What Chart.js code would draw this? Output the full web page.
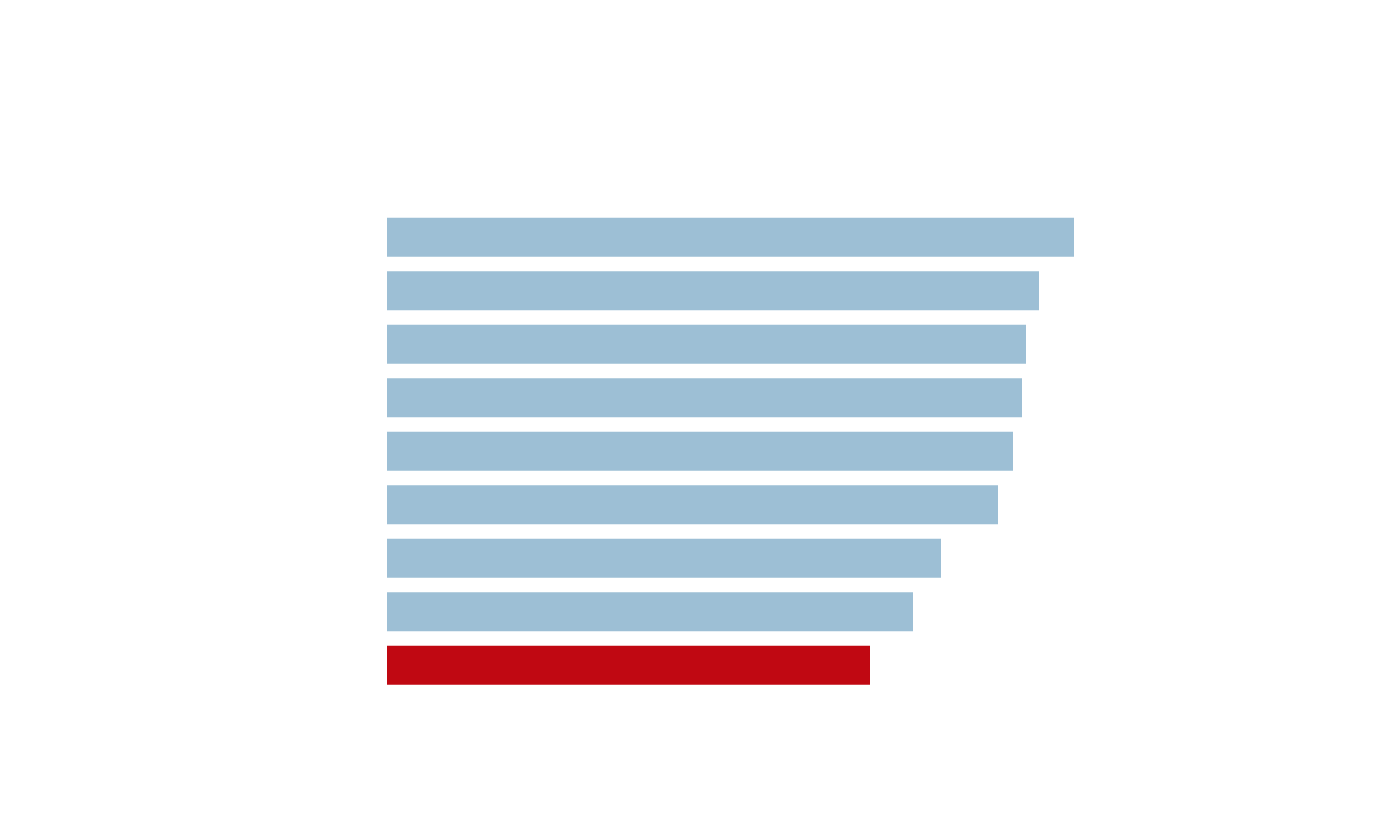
<!DOCTYPE html>
<html>
<head>
<meta charset="utf-8">
<script src="https://cdn.jsdelivr.net/npm/chart.js@4"></script>
<style>
    html, body { margin: 0; padding: 0; background: #fff; }
    #wrap { width: 1400px; height: 840px; }
</style>
</head>
<body>
<div id="wrap"><canvas id="bar-chart" width="1400" height="840"></canvas></div>
<script>
// no labels are shown in the picture, so categories are just placeholders
const categories = ['1', '2', '3', '4', '5', '6', '7', '8', '9'];
const values = [687, 652, 639, 635, 626, 611, 554, 526, 483];
const highlightIndex = 8;

const blue = '#9dbfd5';
const red = '#c00812';

document.addEventListener('DOMContentLoaded', () => {
    const ctx = document.getElementById('bar-chart').getContext('2d');

    new Chart(ctx, {
        type: 'bar',
        data: {
            labels: categories,
            datasets: [{
                data: values,
                backgroundColor: values.map((v, i) => i === highlightIndex ? red : blue),
                borderWidth: 0,
                barPercentage: 0.725,
                categoryPercentage: 1
            }]
        },
        options: {
            indexAxis: 'y',
            responsive: false,
            animation: false,
            layout: {
                padding: { left: 387, right: 287, top: 210.5, bottom: 148 }
            },
            scales: {
                x: { display: false, min: 0, max: 726 },
                y: { display: false }
            },
            plugins: {
                legend: { display: false },
                tooltip: { enabled: false }
            }
        }
    });
});
</script>
</body>
</html>
